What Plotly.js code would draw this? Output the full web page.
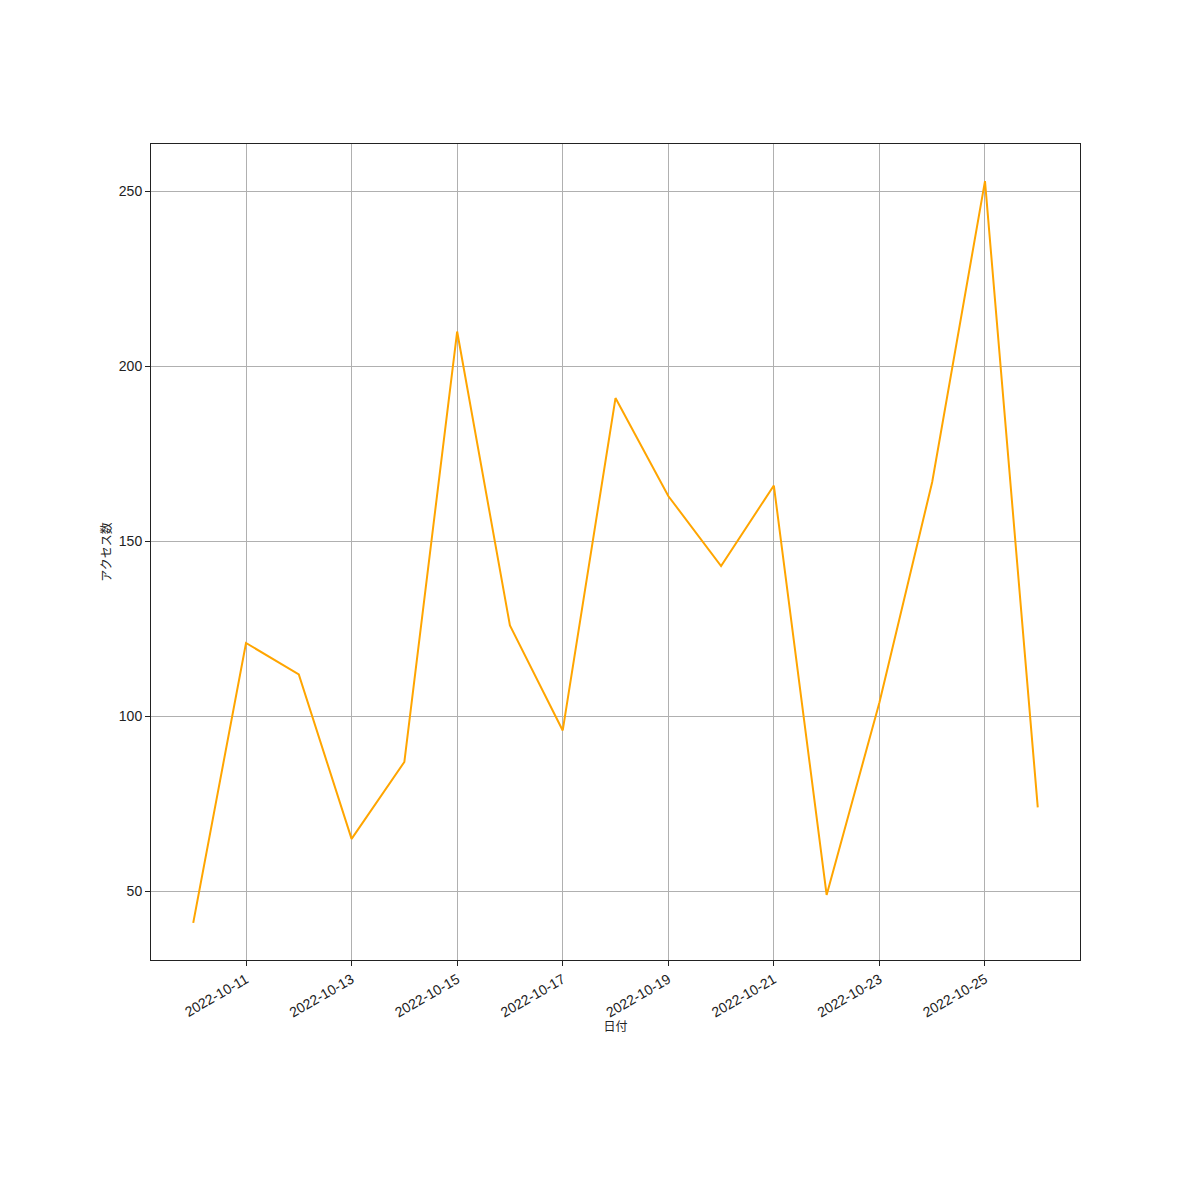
<!DOCTYPE html>
<html>
<head>
<meta charset="utf-8">
<script src="https://cdn.plot.ly/plotly-3.0.1.min.js"></script>
<style>
  html, body { margin: 0; padding: 0; background: #fff; }
  #chart { width: 1200px; height: 1200px; }
</style>
</head>
<body>
<div id="chart"></div>
<script>
// 日付ごとのアクセス数
const dates = [
  "2022-10-10", "2022-10-11", "2022-10-12", "2022-10-13", "2022-10-14",
  "2022-10-15", "2022-10-16", "2022-10-17", "2022-10-18", "2022-10-19",
  "2022-10-20", "2022-10-21", "2022-10-22", "2022-10-23", "2022-10-24",
  "2022-10-25", "2022-10-26"
];
const accessCounts = [
  41, 121, 112, 65, 87,
  210, 126, 96, 191, 163,
  143, 166, 49, 104, 167,
  253, 74
];
const yTicks = [50, 100, 150, 200, 250];

const fontFamily = "'Liberation Sans', 'Noto Sans CJK JP', sans-serif";

const trace = {
  x: dates,
  y: accessCounts,
  type: "scatter",
  mode: "lines",
  line: { color: "#ffa500", width: 2 },
  hoverinfo: "none",
};

const layout = {
  width: 1200,
  height: 1200,
  paper_bgcolor: "#fff",
  plot_bgcolor: "#fff",
  showlegend: false,
  margin: { l: 151, r: 120, t: 144, b: 240 },
  font: { family: fontFamily, size: 13, color: "#222" },
  xaxis: {
    type: "date",
    range: ["2022-10-09 04:48", "2022-10-26 19:12"],
    tick0: "2022-10-11",
    dtick: 2 * 24 * 60 * 60 * 1000,
    tickformat: "%Y-%m-%d",
    tickangle: -30,
    tickfont: { size: 14 },
    ticks: "outside",
    ticklen: 5,
    tickcolor: "#222",
    showgrid: true,
    gridcolor: "#b0b0b0",
    gridwidth: 1,
    showline: true,
    linecolor: "#222",
    linewidth: 1,
    mirror: true,
    zeroline: false,
    title: { text: "日付", font: { size: 12 }, standoff: 0 },
  },
  yaxis: {
    range: [30.4, 263.6],
    tickvals: yTicks,
    tickfont: { size: 14 },
    ticks: "outside",
    ticklen: 5,
    tickcolor: "#222",
    showgrid: true,
    gridcolor: "#b0b0b0",
    gridwidth: 1,
    showline: true,
    linecolor: "#222",
    linewidth: 1,
    mirror: true,
    zeroline: false,
    title: { text: "アクセス数", font: { size: 12 }, standoff: 4 },
  },
};

Plotly.newPlot("chart", [trace], layout, { staticPlot: true });
</script>
</body>
</html>
